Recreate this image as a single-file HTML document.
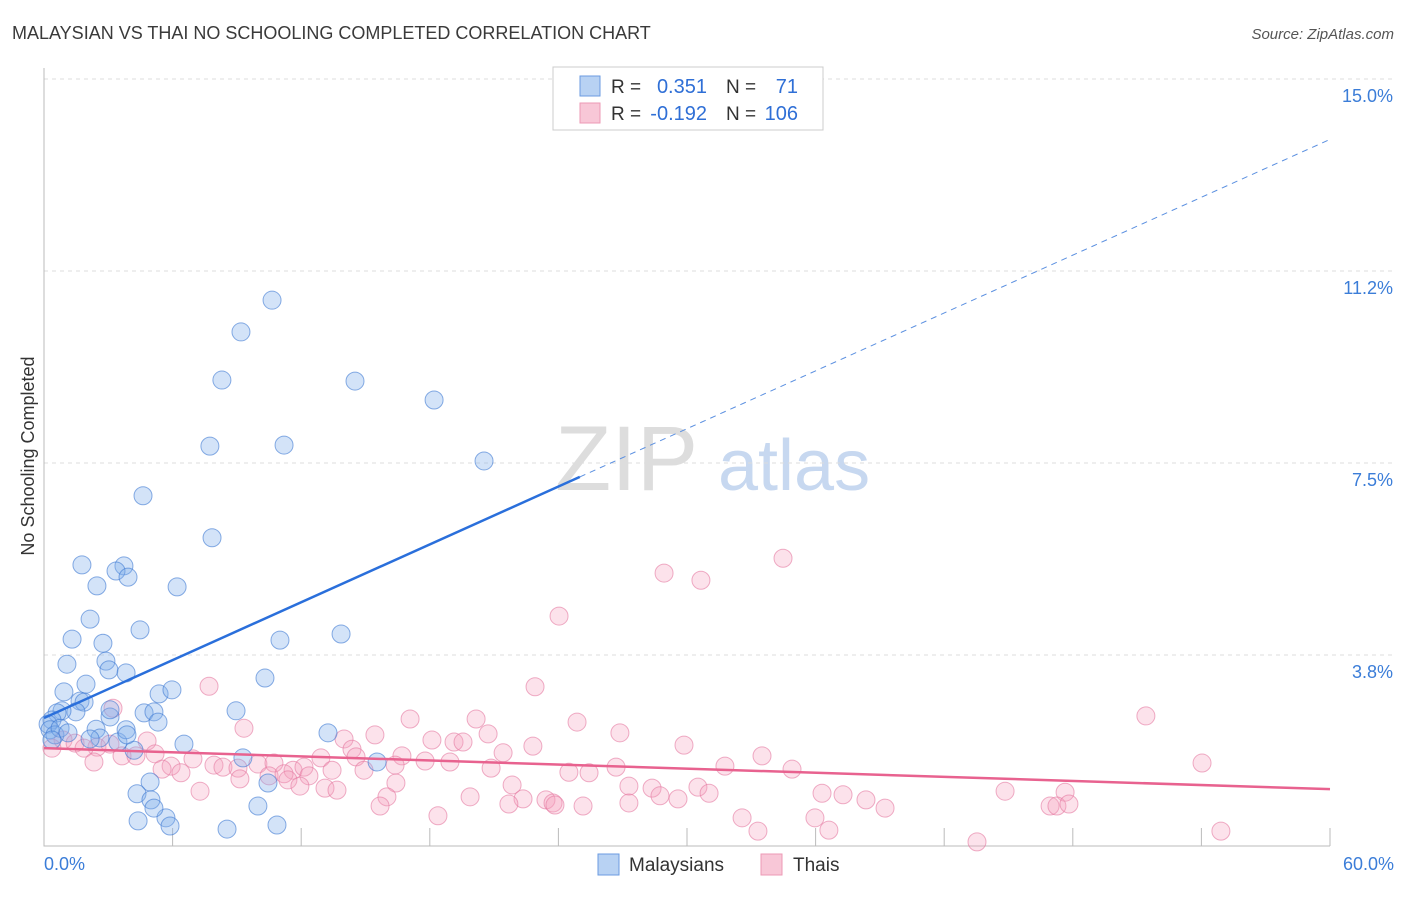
<!DOCTYPE html>
<html><head><meta charset="utf-8"><style>
body{margin:0;background:#fff;font-family:"Liberation Sans",sans-serif}
svg text{font-family:"Liberation Sans",sans-serif}
</style></head><body>
<svg id="c" width="1406" height="892">
<text x="12" y="39" font-size="18" fill="#3a3a3a">MALAYSIAN VS THAI NO SCHOOLING COMPLETED CORRELATION CHART</text>
<text x="1394" y="39" font-size="15" fill="#555" font-style="italic" text-anchor="end">Source: ZipAtlas.com</text>
<text x="34" y="456" font-size="18" fill="#333" transform="rotate(-90 34 456)" text-anchor="middle">No Schooling Completed</text>
<g><text x="555" y="490" font-size="92" fill="#ddd" font-family="Liberation Serif,serif">ZIP</text><text x="718" y="490" font-size="72" fill="#c7d8f0">atlas</text></g>
<g id="grid"></g><g id="pts"></g><g id="lines"></g>
<g>
<rect x="553" y="67" width="270" height="63" fill="#fff" stroke="#ccc"/>
<rect x="580" y="76" width="20" height="20" fill="#b8d2f3" stroke="#6b9be0"/>
<rect x="580" y="103" width="20" height="20" fill="#f8c7d7" stroke="#ec9ab5"/>
<text x="611" y="93" font-size="19" fill="#333">R =</text><text x="707" y="93" font-size="20" fill="#2f6fd6" text-anchor="end">0.351</text>
<text x="726" y="93" font-size="19" fill="#333">N =</text><text x="798" y="93" font-size="20" fill="#2f6fd6" text-anchor="end">71</text>
<text x="611" y="120" font-size="19" fill="#333">R =</text><text x="707" y="120" font-size="20" fill="#2f6fd6" text-anchor="end">-0.192</text>
<text x="726" y="120" font-size="19" fill="#333">N =</text><text x="798" y="120" font-size="20" fill="#2f6fd6" text-anchor="end">106</text>
</g>
<g>
<rect x="598" y="854" width="21" height="21" fill="#b8d2f3" stroke="#6b9be0"/>
<text x="629" y="871" font-size="19" fill="#333">Malaysians</text>
<rect x="761" y="854" width="21" height="21" fill="#f8c7d7" stroke="#ec9ab5"/>
<text x="793" y="871" font-size="19" fill="#333">Thais</text>
</g>
</svg>
<script>
const yTicks=[3.75,7.5,11.25,15];
const yTickLabels=["3.8%","7.5%","11.2%","15.0%"];
const xLabels=["0.0%","60.0%"];
const blueX=[10.64,9.19,8.30,14.51,18.20,7.74,11.20,20.53,4.62,7.84,1.77,3.73,3.36,3.92,2.47,6.21,2.15,4.48,1.31,2.75,11.01,13.86,1.07,2.89,3.03,3.83,10.31,1.96,0.93,5.37,5.97,1.68,1.87,8.96,4.67,5.13,3.08,5.32,1.49,0.84,0.61,0.37,0.19,0.28,0.51,2.43,2.61,3.45,3.83,4.20,6.53,9.28,13.25,15.54,4.95,4.34,4.99,5.69,5.13,4.39,5.88,8.54,9.98,10.87,10.45,3.08,0.75,1.12,2.15,3.87,0.37];
const blueY=[10.68,10.06,9.12,9.10,8.73,7.83,7.85,7.54,6.86,6.04,5.51,5.49,5.39,5.27,5.10,5.08,4.45,4.24,4.06,3.98,4.04,4.16,3.57,3.63,3.46,3.40,3.30,3.18,3.03,2.99,3.07,2.85,2.83,2.66,2.62,2.64,2.54,2.44,2.64,2.66,2.62,2.48,2.40,2.29,2.19,2.30,2.13,2.05,2.29,1.89,2.01,1.74,2.23,1.66,1.27,1.04,0.92,0.57,0.76,0.51,0.41,0.35,0.80,0.43,1.25,2.68,2.32,2.23,2.11,2.19,2.09];
const pinkX=[34.48,28.93,30.65,24.03,7.70,22.91,51.41,17.08,20.16,24.87,26.87,9.33,3.22,15.44,14.00,18.10,19.13,19.55,20.72,22.81,29.86,21.42,14.37,12.92,16.70,17.78,18.94,14.56,4.81,0.89,1.45,0.37,2.47,1.87,3.08,3.64,4.29,5.18,5.93,6.95,7.93,8.35,9.05,9.98,10.73,11.62,12.13,12.36,13.44,14.93,16.38,20.86,24.49,25.43,26.69,31.77,33.50,34.90,54.03,2.33,5.51,6.39,9.14,10.50,11.20,11.38,11.94,13.11,13.67,16.42,16.00,15.68,21.84,22.35,21.69,23.42,23.75,25.15,27.29,28.37,28.74,29.58,30.51,31.03,36.30,37.28,38.35,39.24,44.84,47.64,46.94,47.26,47.82,18.38,27.29,32.57,33.31,35.97,36.62,43.53,54.91,7.28,19.88,23.84];
const pinkY=[5.64,5.35,5.21,4.51,3.14,3.13,2.56,2.50,2.50,2.44,2.23,2.32,2.71,2.19,2.11,2.09,2.05,2.05,2.21,1.97,1.99,1.84,1.91,1.74,1.78,1.68,1.66,1.76,2.07,2.09,2.03,1.93,1.95,1.93,2.01,1.78,1.78,1.82,1.58,1.72,1.60,1.56,1.54,1.62,1.64,1.50,1.56,1.39,1.50,1.50,1.60,1.54,1.46,1.45,1.56,1.58,1.78,1.52,1.64,1.66,1.52,1.45,1.33,1.39,1.43,1.31,1.19,1.15,1.11,1.25,0.98,0.80,1.21,0.94,0.84,0.92,0.86,0.80,1.19,1.15,1.00,0.94,1.17,1.05,1.05,1.02,0.92,0.76,1.09,1.07,0.80,0.80,0.84,0.61,0.86,0.57,0.31,0.57,0.33,0.10,0.31,1.09,0.98,0.82];
const blueTrend=[2.52,13.82]; // values at x=0 and x=60
const pinkTrend=[1.93,1.13];
const NS='http://www.w3.org/2000/svg';
const X=v=>44+v/60*1286, Y=v=>847-v/15*768;
function mk(p,t,a){const e=document.createElementNS(NS,t);for(const k in a)e.setAttribute(k,a[k]);p.appendChild(e);return e;}
const g=document.getElementById('grid');
yTicks.forEach((t,i)=>{
 const l=mk(g,'line',{x1:44,x2:1394,y1:Y(t),y2:Y(t),stroke:'#ddd','stroke-dasharray':'4 4'});
 
 
 const tx=mk(g,'text',{x:1393,y:Y(t)+23,'font-size':18,fill:'#3b7dd8','text-anchor':'end'});tx.textContent=yTickLabels[i];
 
 
});
const ax=mk(g,'path',{d:'M44 68V846H1330',fill:'none',stroke:'#bbb'});


for(let i=1;i<=10;i++){const t=mk(g,'line',{x1:X(i*6),x2:X(i*6),y1:828,y2:846,stroke:'#bbb'});
 
 }
[[0,'start',44],[60,'end',1394]].forEach((d,i)=>{const t=mk(g,'text',{x:d[2],y:870,'font-size':18,fill:'#3b7dd8','text-anchor':d[1]});t.textContent=xLabels[i];
 
 });
const P=document.getElementById('pts');
function pts(xs,ys,f,s,n){xs.forEach((x,i)=>{const c=mk(P,'circle',{cx:X(x),cy:Y(ys[i]),r:9,fill:f,stroke:s,'stroke-width':1});
 
 });}
pts(pinkX,pinkY,'rgba(244,160,190,0.3)','rgba(228,120,160,0.6)','thai-point');
pts(blueX,blueY,'rgba(130,175,235,0.35)','rgba(60,120,210,0.6)','malaysian-point');
const L=document.getElementById('lines');
const bx=25,by=blueTrend[0]+(blueTrend[1]-blueTrend[0])*bx/60;
let e=mk(L,'line',{x1:X(0),y1:Y(blueTrend[0]),x2:X(bx),y2:Y(by),stroke:'#2a6fdb','stroke-width':2.5});


e=mk(L,'line',{x1:X(bx),y1:Y(by),x2:X(60),y2:Y(blueTrend[1]),stroke:'#5a8fe0','stroke-width':1,'stroke-dasharray':'6 5'});


e=mk(L,'line',{x1:X(0),y1:Y(pinkTrend[0]),x2:X(60),y2:Y(pinkTrend[1]),stroke:'#e8628f','stroke-width':2.5});


</script>
</body></html>
